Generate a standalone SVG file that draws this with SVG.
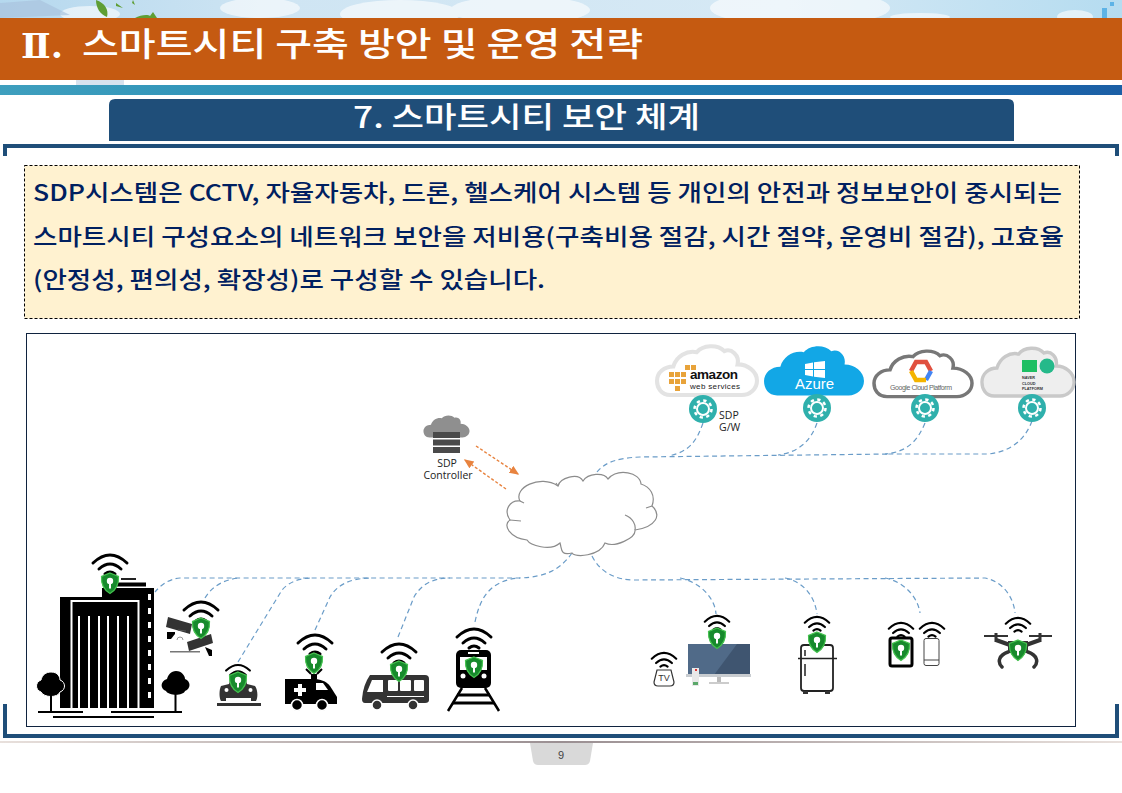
<svg xmlns="http://www.w3.org/2000/svg" width="1122" height="793" viewBox="0 0 1122 793">
<style>
.kr{font-family:"Noto Sans CJK KR","Noto Sans",sans-serif}
.la{font-family:"Open Sans","Liberation Sans",sans-serif}
.conn{fill:none;stroke:#6a9cc8;stroke-width:1.2;stroke-dasharray:5 3.5}
.wf{fill:none;stroke:#000;stroke-width:3;stroke-linecap:round}
.body{font-size:23px;font-weight:500;fill:#002060}
.lab{font-size:10.5px;fill:#222;text-anchor:middle}
.k{fill:#000}
.d{fill:#333}
</style>
<defs>
<linearGradient id="sky" x1="0" x2="1" y1="0" y2="0"><stop offset="0" stop-color="#b5d8ee"/><stop offset=".25" stop-color="#cfe5f3"/><stop offset=".7" stop-color="#d6e9f5"/><stop offset="1" stop-color="#b5dcf0"/></linearGradient>
<linearGradient id="band" x1="0" x2="1" y1="0" y2="0"><stop offset="0" stop-color="#3e9fbe"/><stop offset=".4" stop-color="#2489b4"/><stop offset="1" stop-color="#1b5fa6"/></linearGradient>
<linearGradient id="foot" x1="0" x2="1" y1="0" y2="0"><stop offset="0" stop-color="#e8e0dc"/><stop offset=".5" stop-color="#9a8f92"/><stop offset="1" stop-color="#e8e0dc"/></linearGradient>
<marker id="oa" markerWidth="8" markerHeight="8" refX="6" refY="3" orient="auto"><path d="M0,0L7,3L0,6Z" fill="#e8833f"/></marker>
<path id="cl" d="M14,49C5,49 1,42 1,35C1,27 8,21 17,21C20,11 30,5 40,7C46,0 60,-1 67,6C74,3 82,10 80,19C90,19 99,26 99,35C99,43 92,49 84,49Z"/>
<g id="wifi"><path class="wf" d="M-17,10Q0,-6 17,10"/><path class="wf" d="M-11,16Q0,6 11,16"/><path class="wf" d="M-5,21Q0,17 5,21"/></g>
<g id="sh"><path d="M0,-10L8.500,-6.500C9,2 6,7 0,10.500C-6,7 -9,2 -8.500,-6.500Z" fill="#178a2c" stroke="#45c24f" stroke-width="1.200"/><circle cy="-2" r="3.200" fill="#fff"/><rect x="-1" y="-2" width="2" height="7.500" fill="#fff"/></g>
<g id="gear"><circle r="14" fill="#2fb0ac"/><circle r="6" fill="none" stroke="#fff" stroke-width="2"/><circle r="8.500" fill="none" stroke="#fff" stroke-width="2.500" stroke-dasharray="3.300 3.370"/></g>
</defs>
<rect width="1122" height="793" fill="#fff"/>
<g id="header">
<rect width="1122" height="18" fill="url(#sky)"/>
<g fill="#fff" opacity=".6"><ellipse cx="800" cy="8" rx="90" ry="18"/><ellipse cx="400" cy="14" rx="60" ry="14"/><ellipse cx="520" cy="10" rx="70" ry="14"/><ellipse cx="1075" cy="17" rx="18" ry="7"/><ellipse cx="920" cy="17" rx="30" ry="4"/><ellipse cx="90" cy="14" rx="30" ry="8"/><ellipse cx="260" cy="8" rx="40" ry="10"/></g>
<path d="M0,3L40,0L70,15L0,18Z" fill="#a9c3de" opacity=".7"/>
<path d="M96,0C105,3 109,10 107,17C100,14 96,8 96,0ZM116,3L123,8L116,6ZM133,0L135,5L132,3ZM135,18C140,15 148,14 150,16L153,12L157,18Z" fill="#5f9e34"/>
<path d="M1102,8h5v10h-5ZM1110,2h4v4h-4Z" fill="#5db3e6"/>
<rect y="18" width="1122" height="62" fill="#c55a11"/>
<rect x="76" y="80" width="48" height="5" fill="#d7e2ee"/>
<rect y="85" width="1122" height="10" fill="url(#band)"/>
<text x="21" y="58" font-family="DejaVu Serif,serif" font-size="33" font-weight="700" fill="#fff" textLength="42" lengthAdjust="spacingAndGlyphs">Ⅱ.</text>
<text class="kr" x="82" y="56" font-size="33" font-weight="500" fill="#fff" textLength="561" lengthAdjust="spacingAndGlyphs">스마트시티 구축 방안 및 운영 전략</text>
</g>
<g id="subtitle">
<path d="M109,141V105Q109,99 115,99H1008Q1014,99 1014,105V141Z" fill="#1f4e79"/>
<text class="kr" x="353" y="128" font-size="29" font-weight="500" fill="#fff" textLength="347" lengthAdjust="spacingAndGlyphs">7. 스마트시티 보안 체계</text>
</g>
<g id="frame" fill="none" stroke="#1f4e79" stroke-width="4">
<path d="M5,156V146H1117V156"/>
<path d="M5,704V736H1117V704"/>
</g>
<g id="intro">
<rect x="24.500" y="165.500" width="1055" height="153" fill="#fff2d0" stroke="#000" stroke-dasharray="3 2"/>
<text class="kr body" x="33" y="201" textLength="1029" lengthAdjust="spacingAndGlyphs">SDP시스템은 CCTV, 자율자동차, 드론, 헬스케어 시스템 등 개인의 안전과 정보보안이 중시되는</text>
<text class="kr body" x="33" y="245" textLength="1031" lengthAdjust="spacingAndGlyphs">스마트시티 구성요소의 네트워크 보안을 저비용(구축비용 절감, 시간 절약, 운영비 절감), 고효율</text>
<text class="kr body" x="33" y="288" textLength="512" lengthAdjust="spacingAndGlyphs">(안정성, 편의성, 확장성)로 구성할 수 있습니다.</text>
</g>
<rect id="panel" x="26.500" y="333.500" width="1049" height="393" fill="#fff" stroke="#10233f"/>
<g id="connectors">
<path class="conn" d="M597,472C605,462 618,458 640,457L890,454"/>
<path class="conn" d="M703,423C697,440 690,452 668,456"/>
<path class="conn" d="M817,423C811,440 800,452 778,455"/>
<path class="conn" d="M925,423C918,440 908,452 885,454"/>
<path class="conn" d="M1032,421C1025,440 1010,452 988,454L885,454"/>
<path class="conn" d="M572,553C560,570 545,577 520,578L180,578C168,579 160,586 155,592"/>
<path class="conn" d="M205,598C212,586 225,579 240,578"/>
<path class="conn" d="M238,662L282,590C288,583 298,578 312,578"/>
<path class="conn" d="M315,630L330,597C337,585 350,578 372,578"/>
<path class="conn" d="M398,637L414,597C421,585 432,578 450,578"/>
<path class="conn" d="M475,622C480,598 490,580 520,578"/>
<path class="conn" d="M592,556C600,572 615,580 635,580L985,578C1005,582 1014,600 1015,613"/>
<path class="conn" d="M680,578C700,582 715,598 716,614"/>
<path class="conn" d="M785,578C805,582 815,598 817,614"/>
<path class="conn" d="M885,578C905,582 918,598 920,613"/>
<path fill="none" stroke="#e8833f" stroke-width="1.400" stroke-dasharray="3 2" marker-end="url(#oa)" d="M476,446L518,474"/>
<path fill="none" stroke="#e8833f" stroke-width="1.400" stroke-dasharray="3 2" marker-end="url(#oa)" d="M506,489L465,460"/>
</g>
<g id="internet">
<path fill="#fff" stroke="#8c8c8c" stroke-width="1.200" d="M520,501C513,488 540,474 558,486C560,478 578,472 583,481C588,473 604,472 608,479C618,468 640,472 641,484C650,487 656,495 652,506C662,515 656,527 635,530C636,538 615,548 605,543C600,556 575,558 572,553C560,556 562,549 560,543C550,552 530,545 527,540C510,538 502,525 510,520C503,510 510,500 520,501Z"/>
<path fill="none" stroke="#8c8c8c" stroke-width="1.200" d="M625,515C633,518 636,525 635,530M652,506L646,508M520,501L524,503M510,520L521,521M558,486L556,483"/>
</g>
<g id="sdp-controller">
<use href="#cl" transform="translate(423,415) scale(.47,.46)" fill="#8f8f8f"/>
<rect x="433" y="432" width="27" height="6" fill="#4a4a4a"/><rect x="433" y="439.500" width="27" height="6" fill="#4a4a4a"/><rect x="433" y="447" width="27" height="6" fill="#4a4a4a"/>
<text class="la lab" x="447" y="467">SDP</text><text class="la lab" x="448" y="479">Controller</text>
</g>
<g id="aws">
<use href="#cl" transform="translate(656,345) scale(1.020,1.020)" fill="#fff" stroke="#e3e3e3" stroke-width="4"/>
<g fill="#e8a33a"><rect x="669" y="372" width="5" height="5"/><rect x="669" y="379" width="5" height="5"/><rect x="675" y="372" width="5" height="5"/><rect x="675" y="379" width="5" height="5"/><rect x="675" y="386" width="5" height="5"/><rect x="681" y="372" width="5" height="5"/><rect x="681" y="379" width="5" height="5"/><rect x="685" y="365" width="5" height="5"/><rect x="691" y="365" width="5" height="5"/></g>
<text x="690" y="379" font-family="Liberation Sans,sans-serif" font-weight="700" font-size="13.500" fill="#111" textLength="48">amazon</text>
<text x="690" y="389" font-family="Liberation Sans,sans-serif" font-size="8" fill="#222" textLength="50">web services</text>
</g>
<g id="azure">
<use href="#cl" transform="translate(763,345) scale(1.020,1.030)" fill="#12a7e6"/>
<g fill="#fff"><path d="M805,364L813,362.500V369H805ZM814,362.300L825,361V369H814ZM805,370H813V376.500L805,375ZM814,370H825V378L814,376.700Z"/></g>
<text x="814.500" y="389" font-family="Liberation Sans,sans-serif" font-size="15" fill="#fff" text-anchor="middle">Azure</text>
</g>
<g id="gcp">
<use href="#cl" transform="translate(873,350) scale(1.000,.950)" fill="#fff" stroke="#777" stroke-width="3.500"/>
<path d="M911,371L916,362H926L931,371" fill="none" stroke="#e0503f" stroke-width="4.500"/><path d="M931,371L926,380" fill="none" stroke="#4285f4" stroke-width="4.500"/><path d="M926,380H916L911,371" fill="none" stroke="#f4b400" stroke-width="4.500"/>
<text x="921" y="390" font-family="Liberation Sans,sans-serif" font-size="7" fill="#666" text-anchor="middle" textLength="62">Google Cloud Platform</text>
</g>
<g id="naver">
<use href="#cl" transform="translate(981,347) scale(.940,1.000)" fill="#eeeeee" stroke="#c9c9c9" stroke-width="3.500"/>
<rect x="1022" y="360" width="15" height="12" fill="#1fbf63"/><circle cx="1047" cy="366" r="7.500" fill="#25b98a"/>
<g font-family="Liberation Sans,sans-serif" font-size="3.800" font-weight="700" fill="#333"><text x="1022" y="379">NAVER</text><text x="1022" y="384.500">CLOUD</text><text x="1022" y="390">PLATFORM</text></g>
</g>
<g id="gateways">
<use href="#gear" x="703" y="409"/><use href="#gear" x="817" y="408"/><use href="#gear" x="925" y="408"/><use href="#gear" x="1032" y="408"/>
<text class="la" font-size="10.500" fill="#222" x="719" y="419">SDP</text><text class="la" font-size="10.500" fill="#222" x="719" y="431">G/W</text>
</g>
<g id="building">
<path class="k" d="M60,597H102V588H154V708H60Z"/>
<rect x="121" y="578" width="15" height="2" fill="#222"/><rect x="113" y="582.500" width="33" height="4" class="k"/>
<rect x="71.500" y="601" width="67" height="110" fill="none" stroke="#fff" stroke-width="2"/>
<g fill="#fff"><rect x="78" y="616" width="2" height="92"/><rect x="88" y="616" width="2" height="92"/><rect x="98" y="616" width="2" height="92"/><rect x="107" y="616" width="2" height="92"/><rect x="117" y="616" width="2" height="92"/><rect x="127" y="616" width="2" height="92"/>
<rect x="148" y="594" width="3" height="6"/><rect x="148" y="608" width="3" height="6"/><rect x="148" y="622" width="3" height="6"/><rect x="148" y="636" width="3" height="6"/><rect x="148" y="650" width="3" height="6"/><rect x="148" y="664" width="3" height="6"/><rect x="148" y="678" width="3" height="6"/><rect x="148" y="692" width="3" height="6"/></g>
<path class="k" d="M51,672C58,672 60,677 60,680C66,682 66,690 60,692C58,698 44,698 41,692C35,690 35,682 41,680C42,675 46,672 51,672Z" stroke="#fff"/><rect x="50" y="690" width="2" height="22" class="k"/>
<path class="k" d="M176,671C182,671 185,676 185,679C191,681 191,689 185,691C183,696 169,696 166,691C160,689 160,681 167,679C168,675 171,671 176,671Z"/><rect x="174.500" y="690" width="2" height="22" class="k"/>
<rect x="38" y="711" width="45" height="2" class="k"/><rect x="111" y="711" width="71" height="2" class="k"/><rect x="53" y="716" width="101" height="2" class="k"/>
<use href="#wifi" x="110" y="553"/><use href="#sh" x="110" y="583"/>
</g>
<g id="cameras">
<path class="d" d="M168,617L192,624L190,634L166,627Z"/><path class="k" d="M167,632H175V634L171,639H167Z"/><path d="M178,630L186,631" stroke="#555" stroke-width="1"/>
<path class="d" d="M187,642L211,634L213,643L189,651Z"/><path class="k" d="M205,647L212,650V656H209Z"/>
<rect x="170" y="651" width="30" height="1.500" fill="#777"/><path d="M177,640a3,3 0 0 1 6,0" fill="none" stroke="#999"/>
<use href="#wifi" x="201" y="600"/><use href="#sh" x="201" y="628"/>
</g>
<g id="car">
<path class="d" d="M221,686L229,684L232,674H244L247,684L255,686C258,690 258,698 256,701H251V698H226V701H221C219,698 219,690 221,686Z"/>
<circle cx="226.500" cy="690" r="2" fill="#fff"/><circle cx="250.500" cy="690" r="2" fill="#fff"/>
<rect x="217" y="703" width="44" height="3" class="d"/>
<use href="#wifi" transform="translate(238,663.600) scale(.7)"/><use href="#sh" x="238" y="682"/>
</g>
<g id="ambulance">
<path class="k" d="M285,679H314C320,679 326,681 330,686L337,697V704H285Z"/>
<path d="M316,683H323L328,690H316Z" fill="#fff"/><path d="M298,684h4v4h4v4h-4v4h-4v-4h-4v-4h4Z" fill="#fff"/>
<circle cx="297" cy="705" r="5.500" class="k" stroke="#fff" stroke-width="1.500"/><circle cx="322" cy="705" r="5.500" class="k" stroke="#fff" stroke-width="1.500"/>
<path class="k" d="M306,669L311,674M322,669L317,674" stroke="#000" stroke-width="2"/>
<rect x="311" y="674" width="6" height="5" class="k"/>
<use href="#wifi" x="315" y="633"/><use href="#sh" x="314" y="663"/>
</g>
<g id="bus">
<path class="d" d="M370,675H425Q429,675 429,679V700Q429,703 425,703H365Q362,703 362,699Q363,685 370,675Z"/>
<g fill="#fff"><rect x="388" y="680" width="10" height="11" rx="1"/><rect x="400" y="680" width="11" height="11" rx="1"/><rect x="414" y="680" width="10" height="11" rx="1"/><path d="M372,680H383V692H367Z"/><rect x="387" y="696" width="37" height="1"/></g>
<circle cx="377" cy="705" r="5" class="d" stroke="#fff" stroke-width="1.500"/><circle cx="413" cy="705" r="5" class="d" stroke="#fff" stroke-width="1.500"/>
<use href="#wifi" x="399" y="642"/><use href="#sh" x="399" y="671"/>
</g>
<g id="train">
<rect x="456" y="650" width="35" height="38" rx="5" class="k"/>
<rect x="460" y="657" width="27" height="13" fill="#fff"/><circle cx="463" cy="676" r="2.500" fill="#fff"/><circle cx="484" cy="676" r="2.500" fill="#fff"/><rect x="468" y="652" width="11" height="2" fill="#fff"/>
<path d="M462,688L448,711M485,688L499,711" stroke="#000" stroke-width="2.500" fill="none"/>
<path d="M457,695H490M453,703H494" stroke="#000" stroke-width="3" fill="none"/>
<use href="#wifi" x="474" y="627"/><use href="#sh" x="474" y="667"/>
</g>
<g id="tv-box">
<use href="#wifi" transform="translate(664,651.500) scale(.72)"/>
<path d="M657,670H671L674,682Q674,686 670,686H658Q654,686 654,682Z" fill="#fff" stroke="#333" stroke-width="1.200"/>
<text x="664" y="681" font-family="Liberation Sans,sans-serif" font-size="9" fill="#333" text-anchor="middle">TV</text>
</g>
<g id="monitor">
<rect x="688" y="644" width="62" height="31" fill="#506a88"/><path d="M714,675L737,644H750V675Z" fill="#3f5570"/>
<rect x="686" y="674" width="65" height="3" fill="#c8ccd0"/><rect x="717" y="677" width="4" height="6" fill="#bbb"/><rect x="709" y="682" width="20" height="2" fill="#ccc"/>
<rect x="692" y="668" width="7" height="18" fill="#e8e8e8"/><rect x="695" y="669" width="2" height="2" fill="#d33"/><rect x="693" y="682" width="5" height="3" fill="#5ba86a"/>
<use href="#wifi" transform="translate(717,614.500) scale(.72)"/><use href="#sh" x="717" y="638"/>
</g>
<g id="fridge">
<rect x="801" y="645" width="32" height="46" rx="3" fill="#fff" stroke="#222" stroke-width="1.800"/>
<path d="M798,658.500H837" stroke="#222" stroke-width="1.500"/><path d="M805,650V656M805,664V676" stroke="#222" stroke-width="1.500"/><rect x="803" y="691" width="5" height="3" class="d"/><rect x="825" y="691" width="5" height="3" class="d"/>
<use href="#wifi" transform="translate(817,615.500) scale(.72)"/><use href="#sh" x="817" y="642"/>
</g>
<g id="tablet">
<rect x="890" y="638" width="22" height="28" rx="2" fill="#fff" stroke="#000" stroke-width="3"/>
<use href="#wifi" transform="translate(901,621.500) scale(.72)"/><use href="#sh" x="901" y="650"/>
</g>
<g id="phone">
<rect x="924" y="638.500" width="15" height="27" rx="2" fill="#fff" stroke="#444"/><path d="M924,660H939" stroke="#444"/>
<use href="#wifi" transform="translate(932,621.500) scale(.72)"/>
</g>
<g id="drone">
<path d="M984,636H1008M1029,636H1052" stroke="#333" stroke-width="2" fill="none"/>
<path d="M996,633V642M1040,633V642" stroke="#333" stroke-width="3" fill="none"/>
<path d="M996,640L1010,645M1040,640L1026,645" stroke="#333" stroke-width="4" fill="none"/>
<path d="M1008,652C999,655 997,662 1002,667M1028,652C1037,655 1039,662 1034,667" fill="none" stroke="#333" stroke-width="3.500" stroke-linecap="round"/>
<rect x="1008" y="641" width="20" height="12" class="d"/>
<use href="#wifi" transform="translate(1018,616.500) scale(.72)"/><use href="#sh" x="1018" y="650"/>
</g>
<g id="footer">
<rect y="741" width="1122" height="2" fill="url(#foot)"/>
<path d="M530,743H593L590,761Q589,765 585,765H538Q534,765 533,761Z" fill="#d9d9d9"/>
<text x="561" y="759" font-family="Liberation Sans,sans-serif" font-size="11" fill="#444" text-anchor="middle">9</text>
</g>
</svg>
